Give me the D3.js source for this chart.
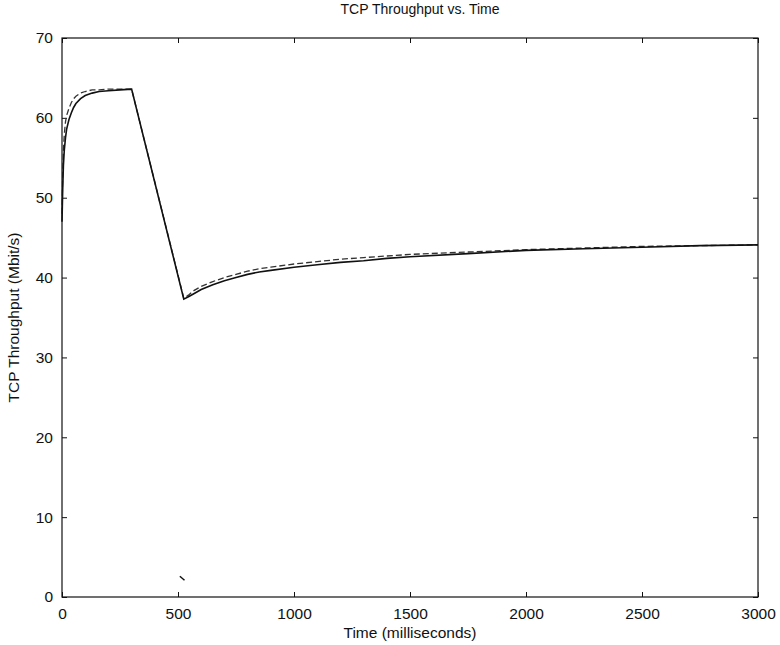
<!DOCTYPE html>
<html>
<head>
<meta charset="utf-8">
<script src="https://cdn.jsdelivr.net/npm/d3@7"></script>
<style>
  body { margin: 0; background: #fff; }
  text { font-family: "Liberation Sans", Arial, sans-serif; fill: #111; }
</style>
</head>
<body>
<div id="chart"></div>
<script>
// time (ms) and throughput (Mbit/s)
var timeSolid = [0, 3, 6, 10, 15, 20, 30, 40, 50, 60, 80, 100, 130, 160, 200, 250, 300,
  525, 545, 570, 600, 650, 700, 750, 800, 850, 900, 1000, 1100, 1200, 1300, 1400, 1500,
  1750, 2000, 2250, 2500, 2750, 3000];
var rateSolid = [47, 51, 54, 56, 57.5, 58.6, 59.8, 60.6, 61.3, 61.8, 62.4, 62.8, 63.1, 63.3, 63.4, 63.5, 63.6,
  37.3, 37.6, 38.0, 38.5, 39.1, 39.6, 40.0, 40.4, 40.7, 40.9, 41.3, 41.6, 41.9, 42.1, 42.4, 42.6,
  43.0, 43.4, 43.6, 43.8, 44.0, 44.1];

var timeDashed = [0, 3, 6, 10, 15, 20, 30, 40, 50, 60, 80, 100, 130, 160, 200, 250, 300,
  525, 545, 570, 600, 650, 700, 750, 800, 850, 900, 1000, 1100, 1200, 1300, 1400, 1500,
  1750, 2000, 2250, 2500, 2750, 3000];
var rateDashed = [48, 53, 56, 58, 59.5, 60.3, 61.2, 61.9, 62.4, 62.7, 63.1, 63.3, 63.5, 63.5, 63.6, 63.6, 63.6,
  37.4, 37.8, 38.4, 38.9, 39.5, 40.0, 40.4, 40.8, 41.1, 41.3, 41.7, 42.0, 42.3, 42.5, 42.7, 42.9,
  43.2, 43.5, 43.7, 43.9, 44.0, 44.1];

// small stray stroke near the bottom of the plot
var timeStray = [508, 528];
var rateStray = [2.6, 2.1];

var xTicks = [0, 500, 1000, 1500, 2000, 2500, 3000];
var yTicks = [0, 10, 20, 30, 40, 50, 60, 70];

var margin = { top: 38, right: 22, bottom: 48, left: 62 },
  width = 780 - margin.left - margin.right,
  height = 645 - margin.top - margin.bottom;

var svg = d3.select("#chart")
  .append("svg")
  .attr("width", 780)
  .attr("height", 645)
  .append("g")
  .attr("transform", "translate(" + margin.left + "," + margin.top + ")");

var x = d3.scaleLinear().domain([0, 3000]).range([0, width]);
var y = d3.scaleLinear().domain([0, 70]).range([height, 0]);

// axes with inward ticks (all four sides)
function styleAxis(g) {
  g.select(".domain").remove();
  g.selectAll(".tick line").attr("stroke", "#111").attr("stroke-width", 1);
  g.selectAll(".tick text").style("font-size", "15.5px").attr("fill", "#111");
}

svg.append("g")
  .attr("transform", "translate(0," + height + ")")
  .call(d3.axisBottom(x).tickValues(xTicks).tickFormat(d3.format("d")).tickSizeInner(-5).tickPadding(11))
  .call(styleAxis);

svg.append("g")
  .call(d3.axisLeft(y).tickValues(yTicks).tickSizeInner(-5).tickPadding(9))
  .call(styleAxis);

svg.append("g")
  .call(d3.axisTop(x).tickValues(xTicks).tickFormat("").tickSizeInner(-5))
  .call(styleAxis);

svg.append("g")
  .attr("transform", "translate(" + width + ",0)")
  .call(d3.axisRight(y).tickValues(yTicks).tickFormat("").tickSizeInner(-5))
  .call(styleAxis);

// frame
svg.append("rect")
  .attr("x", 0).attr("y", 0)
  .attr("width", width).attr("height", height)
  .attr("fill", "none")
  .attr("stroke", "#111")
  .attr("stroke-width", 1.2);

var line = d3.line()
  .x(function (d) { return x(d[0]); })
  .y(function (d) { return y(d[1]); });

svg.append("path")
  .datum(d3.zip(timeDashed, rateDashed))
  .attr("fill", "none")
  .attr("stroke", "#333")
  .attr("stroke-width", 1.3)
  .attr("stroke-dasharray", "6,3")
  .attr("d", line);

svg.append("path")
  .datum(d3.zip(timeSolid, rateSolid))
  .attr("fill", "none")
  .attr("stroke", "#111")
  .attr("stroke-width", 1.6)
  .attr("d", line);

svg.append("path")
  .datum(d3.zip(timeStray, rateStray))
  .attr("fill", "none")
  .attr("stroke", "#111")
  .attr("stroke-width", 1.5)
  .attr("d", line);

// title and axis labels
svg.append("text")
  .attr("x", width / 2 + 10)
  .attr("y", -24)
  .style("text-anchor", "middle")
  .style("font-size", "14px")
  .text("TCP Throughput vs. Time");

svg.append("text")
  .attr("x", width / 2)
  .attr("y", height + 41)
  .style("text-anchor", "middle")
  .style("font-size", "15.5px")
  .text("Time (milliseconds)");

svg.append("text")
  .attr("transform", "rotate(-90)")
  .attr("x", -height / 2)
  .attr("y", -43)
  .style("text-anchor", "middle")
  .style("font-size", "15.5px")
  .text("TCP Throughput (Mbit/s)");
</script>
</body>
</html>
